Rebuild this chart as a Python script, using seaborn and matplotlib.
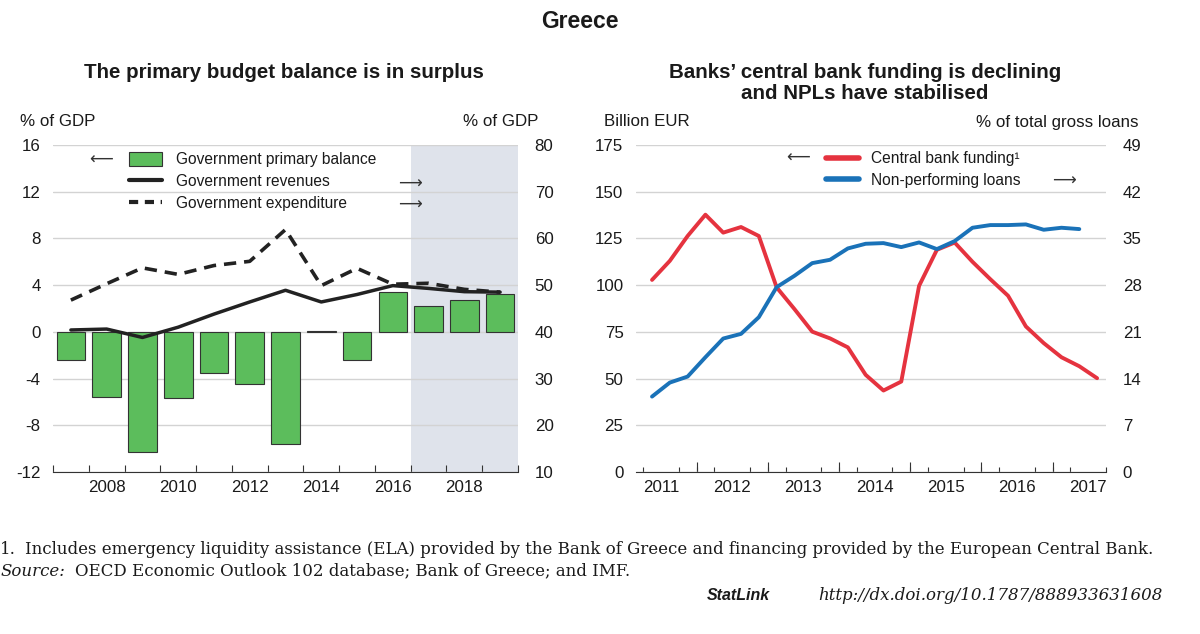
"""Greece: primary budget balance and bank funding / NPLs."""
import matplotlib

matplotlib.use("Agg")
import matplotlib.pyplot as plt
from matplotlib.lines import Line2D
from matplotlib.patches import Patch
import numpy as np
import pandas as pd
import seaborn as sns

# left panel, annual
YEARS = list(range(2007, 2020))
PRIMARY_BALANCE = [-2.4, -5.6, -10.3, -5.7, -3.5, -4.5, -9.6, 0.05, -2.4, 3.45, 2.2, 2.75, 3.2]
REVENUES = [40.4, 40.6, 38.8, 41.0, 43.8, 46.4, 48.9, 46.4, 48.0, 49.9, 49.3, 48.6, 48.5]
EXPENDITURE = [46.8, 50.3, 53.7, 52.3, 54.2, 55.1, 61.9, 49.9, 53.6, 50.2, 50.4, 49.1, 48.5]
PROJECTION_START = 2017

# right panel, quarterly
CB_QUARTERS = [str(p) for p in pd.period_range("2011Q2", "2017Q3", freq="Q")]
CB_FUNDING = [102.8, 113.0, 126.3, 137.7, 128.1, 131.1, 126.3, 98.8, 87.2, 75.1, 71.5, 66.7, 52.0,
              43.6, 48.4, 99.6, 118.9, 122.8, 112.5, 103.2, 94.3, 77.9, 69.0, 61.4, 56.6, 50.2]
NPL_QUARTERS = [str(p) for p in pd.period_range("2011Q2", "2017Q2", freq="Q")]
NPL = [11.3, 13.4, 14.3, 17.2, 20.0, 20.7, 23.2, 27.7, 29.4, 31.3, 31.8, 33.5, 34.2,
       34.3, 33.7, 34.4, 33.4, 34.6, 36.6, 37.0, 37.0, 37.1, 36.3, 36.6, 36.4]

GREEN = "#5cbd5c"
RED = "#e5333f"
BLUE = "#1a72b8"
SHADE = "#dfe3eb"
GRID = "#d3d3d3"
DARK = "#222222"
FS = 12.2
LEG_FS = 11.2

W, H = 1200, 634


def quarter_pos(labels):
    # middle of the quarter, in fractional years
    per = pd.PeriodIndex(labels, freq="Q")
    return per.year + (per.quarter - 1) / 4 + 0.125


def fx(px):
    return px / W


def fy(py):
    return 1 - py / H


sns.set_style("white")
plt.rcParams["font.family"] = ["Liberation Sans", "DejaVu Sans"]
plt.rcParams["font.size"] = FS
plt.rcParams["axes.unicode_minus"] = False
plt.rcParams["text.color"] = "#1a1a1a"
plt.rcParams["xtick.color"] = "#333333"
plt.rcParams["xtick.labelcolor"] = "#1a1a1a"
plt.rcParams["ytick.labelcolor"] = "#1a1a1a"

fig = plt.figure(figsize=(12, 6.34), dpi=100)

# ---------------- left panel ----------------
ax1 = fig.add_axes([fx(53), fy(472), fx(518 - 53), (472 - 145) / H])
ax1.axvspan(PROJECTION_START - 0.5, YEARS[-1] + 0.5, color=SHADE, zorder=0, lw=0)
sns.barplot(x=YEARS, y=PRIMARY_BALANCE, native_scale=True, color=GREEN, saturation=1,
            edgecolor="#333333", linewidth=0.8, width=0.8, ax=ax1, zorder=3)
ax1.set_xlim(YEARS[0] - 0.5, YEARS[-1] + 0.5)
ax1.set_ylim(-12, 16)
ax1.set_yticks(np.arange(-12, 17, 4))
ax1.set_xticks([y for y in YEARS if y % 2 == 0])
ax1.set_xticks(np.arange(YEARS[0] - 0.5, YEARS[-1] + 1), minor=True)
ax1.tick_params(axis="x", which="major", length=0, pad=6, labelsize=FS)
ax1.tick_params(axis="x", which="minor", bottom=True, length=5, direction="in",
                color="#333333", width=0.8)
ax1.tick_params(axis="y", length=0, pad=9, labelsize=FS)
ax1.grid(axis="y", color=GRID, lw=1)
ax1.set_axisbelow(True)
for s in ["top", "left", "right"]:
    ax1.spines[s].set_visible(False)
ax1.spines["bottom"].set_color("#333333")
ax1.set_xlabel("")
ax1.set_ylabel("")

ax2 = ax1.twinx()
sns.lineplot(x=YEARS, y=REVENUES, ax=ax2, color=DARK, lw=2.5, zorder=4)
sns.lineplot(x=YEARS, y=EXPENDITURE, ax=ax2, color=DARK, lw=2.6,
             linestyle=(0, (3.4, 2.2)), zorder=4)
ax2.set_ylim(10, 80)
ax2.set_yticks(np.arange(10, 81, 10))
ax2.tick_params(axis="y", length=0, pad=12, labelsize=FS)
for s in ["top", "left", "right", "bottom"]:
    ax2.spines[s].set_visible(False)
ax2.set_xlabel("")
ax2.set_ylabel("")

handles = [
    Patch(facecolor=GREEN, edgecolor="#333333", lw=0.8),
    Line2D([], [], color=DARK, lw=3),
    Line2D([], [], color=DARK, lw=3, linestyle=(0, (2.2, 1.6))),
]
ax2.legend(handles, ["Government primary balance", "Government revenues", "Government expenditure"],
           loc="upper left", bbox_to_anchor=(fx(129), fy(152)), bbox_transform=fig.transFigure,
           frameon=False, fontsize=LEG_FS, handlelength=2.1, handleheight=1.0, handletextpad=0.9,
           labelspacing=0.42, borderpad=0, borderaxespad=0)

arrow_kw = dict(fontsize=12, family="DejaVu Sans", va="center", color="#333333")
fig.text(fx(89), fy(160), "\u27f5", ha="left", **arrow_kw)
fig.text(fx(398), fy(184), "\u27f6", ha="left", **arrow_kw)
fig.text(fx(398), fy(205), "\u27f6", ha="left", **arrow_kw)

# ---------------- right panel ----------------
ax3 = fig.add_axes([fx(636), fy(472), fx(1106 - 636), (472 - 145) / H])
sns.lineplot(x=quarter_pos(CB_QUARTERS), y=CB_FUNDING, ax=ax3, color=RED, lw=2.8, zorder=4)
ax3.set_xlim(2011.15, 2017.74)
ax3.set_ylim(0, 175)
ax3.set_yticks(np.arange(0, 176, 25))
ax3.set_xticks(np.arange(2011, 2018) + 0.5, [str(y) for y in range(2011, 2018)])
ax3.set_xticks(np.arange(2011.25, 2017.76, 0.25), minor=True)
ax3.tick_params(axis="x", which="major", length=0, pad=6, labelsize=FS)
ax3.tick_params(axis="x", which="minor", bottom=True, length=3.5, direction="in",
                color="#333333", width=0.8)
ax3.tick_params(axis="y", length=0, pad=9, labelsize=FS)
ax3.grid(axis="y", color=GRID, lw=1)
ax3.set_axisbelow(True)
for s in ["top", "left", "right"]:
    ax3.spines[s].set_visible(False)
ax3.spines["bottom"].set_color("#333333")
ax3.set_xlabel("")
ax3.set_ylabel("")

sec = ax3.secondary_xaxis("bottom")
sec.set_xticks(np.arange(2012, 2018))
sec.tick_params(axis="x", bottom=True, length=7, direction="in", color="#333333", width=0.8,
                labelbottom=False)
sec.spines["bottom"].set_visible(False)

ax4 = ax3.twinx()
sns.lineplot(x=quarter_pos(NPL_QUARTERS), y=NPL, ax=ax4, color=BLUE, lw=2.8, zorder=4)
ax4.set_ylim(0, 49)
ax4.set_yticks(np.arange(0, 50, 7))
ax4.tick_params(axis="y", length=0, pad=12, labelsize=FS)
for s in ["top", "left", "right", "bottom"]:
    ax4.spines[s].set_visible(False)
ax4.set_xlabel("")
ax4.set_ylabel("")

handles = [Line2D([], [], color=RED, lw=4), Line2D([], [], color=BLUE, lw=4)]
ax4.legend(handles, ["Central bank funding\u00b9", "Non-performing loans"],
           loc="upper left", bbox_to_anchor=(fx(826), fy(151)), bbox_transform=fig.transFigure,
           frameon=False, fontsize=LEG_FS, handlelength=2.1, handletextpad=0.8,
           labelspacing=0.42, borderpad=0, borderaxespad=0)
fig.text(fx(786), fy(158), "\u27f5", ha="left", **arrow_kw)
fig.text(fx(1052), fy(181), "\u27f6", ha="left", **arrow_kw)

# ---------------- titles and labels ----------------
fig.text(fx(580), fy(22), "Greece", ha="center", va="center", fontsize=16.5, fontweight="bold")
fig.text(fx(284), fy(72), "The primary budget balance is in surplus", ha="center", va="center",
         fontsize=14.8, fontweight="bold")
fig.text(fx(865), fy(83), "Banks\u2019 central bank funding is declining\nand NPLs have stabilised",
         ha="center", va="center", fontsize=14.8, fontweight="bold", linespacing=1.1)
fig.text(fx(20), fy(122), "% of GDP", ha="left", va="center", fontsize=FS)
fig.text(fx(538), fy(122), "% of GDP", ha="right", va="center", fontsize=FS)
fig.text(fx(604), fy(122), "Billion EUR", ha="left", va="center", fontsize=FS)
fig.text(fx(1138), fy(122), "% of total gross loans", ha="right", va="center", fontsize=FS)

# ---------------- notes ----------------
serif = ["DejaVu Serif"]
fig.text(fx(0), fy(549), "1.", ha="left", va="center", fontsize=12, family=serif)
fig.text(fx(25), fy(549),
         "Includes emergency liquidity assistance (ELA) provided by the Bank of Greece and "
         "financing provided by the European Central Bank.",
         ha="left", va="center", fontsize=12, family=serif)
fig.text(fx(1), fy(571), "Source:", ha="left", va="center", fontsize=12, family=serif,
         style="italic")
fig.text(fx(75), fy(571), "OECD Economic Outlook 102 database; Bank of Greece; and IMF.",
         ha="left", va="center", fontsize=12, family=serif)
fig.text(fx(770), fy(596), "StatLink", ha="right", va="center", fontsize=11.5,
         fontweight="bold", style="italic")
fig.text(fx(1163), fy(596), "http://dx.doi.org/10.1787/888933631608", ha="right", va="center",
         fontsize=12, family=serif, style="italic")

fig.savefig("out.png", dpi=100)
